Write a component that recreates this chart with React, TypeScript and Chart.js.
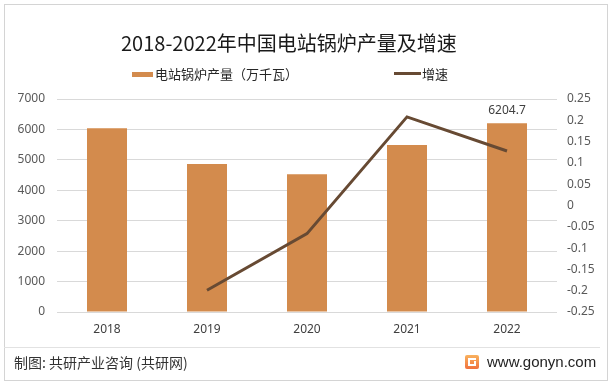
import React, { useEffect, useRef } from "react";
import { Chart, registerables } from "chart.js";

Chart.register(...registerables);

// ---- data ----
const categories = ["2018", "2019", "2020", "2021", "2022"];
const outputValues = [6040, 4865, 4527, 5489, 6204.7];
const growthValues = [null, -0.199, -0.066, 0.208, 0.128];
const leftMin = 0;
const leftMax = 7000;
const leftStep = 1000;
const rightMin = -0.25;
const rightMax = 0.25;
const rightStep = 0.05;
const labelledIndexes = [4];

const titleText = "2018-2022年中国电站锅炉产量及增速";
const barLegend = "电站锅炉产量（万千瓦）";
const lineLegend = "增速";
const sourceText = "制图: 共研产业咨询 (共研网)";
const siteText = "www.gonyn.com";

const BAR_COLOR = "#D38B4D";
const LINE_COLOR = "#674A33";
const FONT = "'Noto Sans', 'Noto Sans CJK SC', sans-serif";
const CJK_FONT = "'Noto Sans CJK SC', 'Noto Sans', sans-serif";

const dataLabelPlugin = {
  id: "barValueLabels",
  afterDatasetsDraw(chart: any) {
    const meta = chart.getDatasetMeta(0);
    const ctx = chart.ctx;
    ctx.save();
    ctx.font = `12px ${FONT}`;
    ctx.fillStyle = "#404040";
    ctx.textAlign = "center";
    ctx.textBaseline = "middle";
    labelledIndexes.forEach((i) => {
      const el = meta.data[i];
      if (el) ctx.fillText(String(outputValues[i]), el.x, el.y - 13);
    });
    ctx.restore();
  },
};

export default function App() {
  const canvasRef = useRef<HTMLCanvasElement | null>(null);

  useEffect(() => {
    if (!canvasRef.current) return;
    const chart = new Chart(canvasRef.current, {
      type: "bar",
      data: {
        labels: categories,
        datasets: [
          {
            type: "bar",
            label: barLegend,
            data: outputValues,
            backgroundColor: BAR_COLOR,
            barPercentage: 0.4,
            categoryPercentage: 1.0,
            yAxisID: "y",
            order: 1,
          },
          {
            type: "line",
            label: lineLegend,
            data: growthValues as any,
            borderColor: LINE_COLOR,
            borderWidth: 3,
            pointRadius: 0,
            tension: 0,
            spanGaps: false,
            yAxisID: "y1",
            order: 0,
          } as any,
        ],
      },
      options: {
        responsive: false,
        animation: false,
        devicePixelRatio: 1,
        layout: { padding: { top: 99, left: 0, right: 0, bottom: 0 } },
        plugins: {
          legend: { display: false },
          title: { display: false },
          tooltip: { enabled: false },
        },
        scales: {
          x: {
            grid: { display: false, drawTicks: false },
            border: { display: false },
            ticks: { padding: 10, color: "#404040", font: { size: 12, family: FONT } },
            afterFit: (s: any) => {
              s.height = 74;
            },
          },
          y: {
            position: "left",
            min: leftMin,
            max: leftMax,
            ticks: {
              stepSize: leftStep,
              padding: 12,
              color: "#595959",
              font: { size: 12, family: FONT },
              callback: (v: any) => String(Math.round(Number(v))),
            },
            grid: { color: "#d9d9d9", drawTicks: false, lineWidth: 1 },
            border: { display: false },
            afterFit: (s: any) => {
              s.width = 57;
            },
          },
          y1: {
            position: "right",
            min: rightMin,
            max: rightMax,
            ticks: {
              stepSize: rightStep,
              padding: 10,
              color: "#595959",
              font: { size: 12, family: FONT },
              callback: (v: any) => String(+Number(v).toFixed(2)),
            },
            grid: { display: false, drawTicks: false },
            border: { display: false },
            afterFit: (s: any) => {
              s.width = 56;
            },
          },
        },
      } as any,
      plugins: [dataLabelPlugin],
    });
    return () => chart.destroy();
  }, []);

  const abs = (style: React.CSSProperties): React.CSSProperties => ({ position: "absolute", ...style });

  return (
    <div style={abs({ left: 0, top: 0, width: 613, height: 386, background: "#fff", overflow: "hidden" })}>
      <canvas ref={canvasRef} width={613} height={386} style={abs({ left: 0, top: 0, width: 613, height: 386 })} />
      <div style={abs({ left: 4, top: 4, width: 604, height: 377, border: "1px solid #d4d4d4", boxSizing: "border-box", pointerEvents: "none" })} />
      <div
        style={abs({
          left: 121,
          top: 31,
          height: 24,
          lineHeight: "24px",
          fontSize: 20,
          fontFamily: CJK_FONT,
          color: "#1a1a1a",
          whiteSpace: "nowrap",
        })}
      >
        {titleText}
      </div>
      {/* legend */}
      <div style={abs({ left: 132, top: 72, width: 21, height: 5, background: BAR_COLOR })} />
      <div style={abs({ left: 155, top: 65, height: 18, lineHeight: "18px", fontSize: 13, fontFamily: CJK_FONT, color: "#262626", whiteSpace: "nowrap" })}>
        {barLegend}
      </div>
      <div style={abs({ left: 394, top: 72, width: 27, height: 3, background: LINE_COLOR })} />
      <div style={abs({ left: 422, top: 65, height: 18, lineHeight: "18px", fontSize: 13, fontFamily: CJK_FONT, color: "#262626", whiteSpace: "nowrap" })}>
        {lineLegend}
      </div>
      {/* footer */}
      <div style={abs({ left: 4, top: 347, width: 596, height: 1, background: "#e2e2e2" })} />
      <div style={abs({ left: 14, top: 352, height: 20, lineHeight: "20px", fontSize: 14, fontFamily: CJK_FONT, color: "#333", whiteSpace: "nowrap" })}>
        {sourceText}
      </div>
      <div
        style={abs({
          left: 465,
          top: 355,
          width: 14,
          height: 14,
          borderRadius: 2,
          background: "linear-gradient(180deg, #f9b25e 0%, #f0713d 100%)",
        })}
      >
        <div style={abs({ left: 3, top: 3, width: 8, height: 2, background: "#fff" })} />
        <div style={abs({ left: 3, top: 3, width: 2, height: 8, background: "#fff" })} />
        <div style={abs({ left: 3, top: 9, width: 8, height: 2, background: "#fff" })} />
        <div style={abs({ left: 9, top: 6, width: 2, height: 5, background: "#fff" })} />
      </div>
      <div style={abs({ left: 487, top: 352, height: 20, lineHeight: "20px", fontSize: 15, fontFamily: "'Liberation Sans', sans-serif", color: "#222", whiteSpace: "nowrap" })}>
        {siteText}
      </div>
    </div>
  );
}
